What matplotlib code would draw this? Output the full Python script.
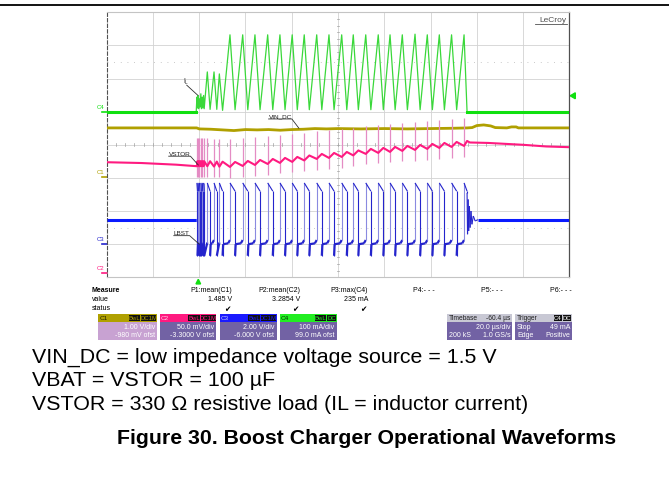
import numpy as np
import matplotlib
matplotlib.use('Agg')
import matplotlib.pyplot as plt
from matplotlib.patches import Rectangle, Polygon
from matplotlib.lines import Line2D
from matplotlib.collections import LineCollection

W, H = 669, 489

# ---------------- data ----------------
time_per_div_us = 20.0
n_xdiv, n_ydiv = 10, 8

ch_names = ['C1', 'C2', 'C3', 'C4']
ch_scale = [1.0, 0.05, 2.0, 100.0]       # units / div
ch_offset = [-0.98, -3.3, -6.0, 99.0]    # units

# switching events: IL peak (LBST rising) and IL valley (LBST falling), in us
ev_rise_t = [39.0, 39.5, 40.1, 40.7, 41.3, 41.9,
             43.5, 46.4, 48.7,
             53.3, 58.8, 64.1, 69.6, 74.9, 80.2, 85.4, 90.8, 96.1, 101.6,
             106.6, 112.0, 117.4, 122.5, 127.8, 133.3, 138.6, 143.8, 149.1, 154.5]
ev_fall_t = [39.25, 39.75, 40.35, 40.95, 41.55, 42.15,
             44.7, 47.6, 50.1,
             55.5, 61.0, 66.3, 71.8, 77.1, 82.4, 87.6, 93.0, 98.3, 103.8,
             108.8, 114.2, 119.6, 124.7, 130.0, 135.5, 140.8, 146.0, 151.3, 155.8]

# C4: inductor current IL (mA)
il_start_t = 38.7
il_peak_ma = [45, 50, 40, 55, 45, 50,
              121, 121, 115,
              233, 233, 233, 233, 233, 233, 233, 233, 233, 233,
              233, 233, 233, 233, 233, 235, 233, 233, 233, 233]
il_valley_ma = [12, 10, 15, 10, 12, 10,
                8, 8, 5,
                7, 7, 7, 7, 7, 7, 7, 7, 7, 7,
                7, 7, 7, 7, 7, 7, 7, 7, 7, 0]

# C1: VIN_DC (V)
vin_t = [0, 38.9, 40, 45, 50, 55, 60, 65, 70, 75, 80, 85, 90, 95, 100, 110, 120,
         130, 140, 150, 156, 158, 160, 163, 166, 168, 173, 175, 177, 178, 200]
vin_v = [1.49, 1.49, 1.46, 1.45, 1.43, 1.41, 1.44, 1.43, 1.44, 1.42, 1.44, 1.45, 1.47,
         1.46, 1.47, 1.46, 1.47, 1.46, 1.47, 1.48, 1.49, 1.50, 1.56, 1.58, 1.55, 1.50,
         1.49, 1.52, 1.52, 1.49, 1.49]

# C2: VSTOR (V)
vstor_pre_t = [0, 15, 30, 38.9]
vstor_pre_v = [3.2737, 3.2725, 3.2700, 3.2677]
vstor_trough_v = [3.2677, 3.2677, 3.2677, 3.2677, 3.2677, 3.2677,
                  3.2677, 3.2672, 3.2670,
                  3.2666, 3.2681, 3.2696, 3.2711, 3.2727, 3.2742, 3.2764, 3.2787,
                  3.2802, 3.2817, 3.2840, 3.2863, 3.2878, 3.2893, 3.2908, 3.2923,
                  3.2938, 3.2953, 3.2968, 3.2983]
vstor_ripple_v = 0.0075
vstor_spike_up_v = 0.042
vstor_spike_dn_v = 0.016
vstor_post_t = [157, 165, 180, 190, 200]
vstor_post_v = [3.3035, 3.3028, 3.3000, 3.2975, 3.2964]

# C3: LBST switch node (V)
lbst_idle_v = 1.48
lbst_high_start_v = 3.7
lbst_high_end_v = 3.2
lbst_under_v = -0.7
lbst_low_start_v = 0.0
lbst_low_end_v = 0.25
lbst_ring_t = [155.8, 156.0, 156.25, 156.5, 156.8, 157.1, 157.5, 157.9, 158.5, 159.3, 160.5]
lbst_ring_v = [3.1, 0.6, 2.7, 0.8, 2.3, 1.0, 2.0, 1.2, 1.7, 1.4, 1.48]

# measurements / annotations text
meas_labels = ['P1:mean(C1)', 'P2:mean(C2)', 'P3:max(C4)', 'P4:- - -', 'P5:- - -', 'P6:- - -']
meas_values = ['1.485 V', '3.2854 V', '235 mA', '', '', '']
meas_status = [True, True, True, False, False, False]
ch_vdiv_text = ['1.00 V/div', '50.0 mV/div', '2.00 V/div', '100 mA/div']
ch_ofst_text = ['-980 mV ofst', '-3.3000 V ofst', '-6.000 V ofst', '99.0 mA ofst']
ch_badges = [['BwL', 'DC1M'], ['BwL', 'DC1M'], ['BwL', 'DC1M'], ['BwL', 'DC']]
trig_level_ma = 49.0
trig_t = 39.6

notes = ['VIN_DC = low impedance voltage source = 1.5 V',
         'VBAT = VSTOR = 100 \u00b5F',
         'VSTOR = 330 \u03a9 resistive load (IL = inductor current)']
title = 'Figure 30. Boost Charger Operational Waveforms'

# ---------------- colours ----------------
col_c1 = '#b0a000'
col_c2 = '#ff1a80'
col_c2_spike = '#e48cc4'
col_c3 = '#2424cc'
col_c3_light = '#8a8ae0'
col_c3_base = '#0a1aff'
col_c4 = '#3ad83a'
col_c4_base = '#10e010'
grid_col = '#d2d2d2'


def to_div(v, ch):
    i = ch_names.index(ch)
    return 4.0 + (np.asarray(v, dtype=float) + ch_offset[i]) / ch_scale[i]


plt.rcParams['font.family'] = ['Liberation Sans', 'DejaVu Sans']
fig = plt.figure(figsize=(W / 100, H / 100), dpi=100)
fig.patch.set_facecolor('white')

px_l, px_r, px_t, px_b = 106.7, 569.3, 13.3, 278.3
ax = fig.add_axes([px_l / W, 1 - px_b / H, (px_r - px_l) / W, (px_b - px_t) / H])
T = time_per_div_us * n_xdiv
ax.set_xlim(0, T)
ax.set_ylim(0, n_ydiv)
ax.set_xticks([])
ax.set_yticks([])
for s in ['top', 'bottom']:
    ax.spines[s].set_color('#c4c4c4')
    ax.spines[s].set_linewidth(0.8)
ax.spines['left'].set_color('#505050')
ax.spines['left'].set_linestyle((0, (3, 2)))
ax.spines['left'].set_linewidth(0.8)
ax.spines['right'].set_color('#505050')
ax.spines['right'].set_linewidth(0.9)

# graticule
for i in range(1, n_xdiv):
    ax.axvline(i * time_per_div_us, color=grid_col, lw=0.6, zorder=0)
for j in range(1, n_ydiv):
    ax.axhline(j, color=grid_col, lw=0.6, zorder=0)
for yy in (1.5, 6.5):
    ax.axhline(yy, color='#b8b8b8', lw=0.6, ls=(0, (1, 7)), zorder=0)
cx = T / 2
for j in np.arange(0.2, n_ydiv, 0.2):
    ax.plot([cx - 0.6, cx + 0.6], [j, j], color='#a0a0a0', lw=0.5, zorder=0)
for i in np.arange(4, T, 4):
    ax.plot([i, i], [3.96, 4.04], color='#a0a0a0', lw=0.5, zorder=0)

# ---- C4 : IL ----
il_t = [0.0, il_start_t]
il_v = [0.0, 0.0]
for r, f, pk, vl in zip(ev_rise_t, ev_fall_t, il_peak_ma, il_valley_ma):
    il_t += [r, f]
    il_v += [pk, vl]
il_t += [T]
il_v += [0.0]
il_d = to_div(il_v, 'C4')
ax.plot(il_t, il_d, color=col_c4, lw=0.9, zorder=3)
ax.plot(il_t[:2], il_d[:2], color=col_c4_base, lw=2.2, zorder=3)
ax.plot(il_t[-2:], il_d[-2:], color=col_c4_base, lw=2.2, zorder=3)

# ---- C1 : VIN_DC ----
ax.plot(vin_t, to_div(vin_v, 'C1'), color=col_c1, lw=2.0, zorder=3)

# ---- C2 : VSTOR ----
vs_t = list(vstor_pre_t)
vs_v = list(vstor_pre_v)
for r, f, tr in zip(ev_rise_t, ev_fall_t, vstor_trough_v):
    vs_t += [r, f]
    vs_v += [tr, tr + vstor_ripple_v]
vs_t += vstor_post_t
vs_v += vstor_post_v
tr_arr = np.array(vstor_trough_v)
ax.vlines(ev_rise_t, to_div(tr_arr - vstor_spike_dn_v, 'C2'),
          to_div(tr_arr + vstor_spike_up_v, 'C2'), color=col_c2_spike, lw=0.9, zorder=4)
ax.plot(vs_t, to_div(vs_v, 'C2'), color=col_c2, lw=1.5, zorder=4)

# ---- C3 : LBST ----
lb_t = [0.0, il_start_t]
lb_v = [lbst_idle_v, lbst_idle_v]
cur_low = lbst_idle_v
n = len(ev_rise_t)
for k in range(n):
    r, f = ev_rise_t[k], ev_fall_t[k]
    lb_t += [r, r, f]
    lb_v += [cur_low, lbst_high_start_v, lbst_high_end_v]
    if k < n - 1:
        nr = ev_rise_t[k + 1]
        lb_t += [f]
        lb_v += [lbst_under_v]
        if nr - f > 1.5:
            lb_t += [f + 0.25, nr - 0.8]
            lb_v += [lbst_low_start_v, lbst_low_start_v + 0.05]
            cur_low = lbst_low_end_v
        else:
            cur_low = 0.1
lb_t += lbst_ring_t + [T]
lb_v += lbst_ring_v + [lbst_idle_v]
lb_d = to_div(lb_v, 'C3')
pts = np.column_stack([lb_t, lb_d])
segs = np.stack([pts[:-1], pts[1:]], axis=1)
dx = segs[:, 1, 0] - segs[:, 0, 0]
dy = segs[:, 1, 1] - segs[:, 0, 1]
is_rise = (np.abs(dx) < 1e-9) & (dy > 0)
low_lvl = float(to_div(0.6, 'C3'))
is_low = (np.abs(dx) > 0.1) & (segs[:, 0, 1] < low_lvl) & (segs[:, 1, 1] < low_lvl)
is_base = (np.abs(dy) < 1e-9) & (np.abs(segs[:, 0, 1] - float(to_div(lbst_idle_v, 'C3'))) < 1e-6)
cols = np.where(is_rise, col_c3_light, col_c3)
lws = np.where(is_base, 2.2, np.where(is_low, 1.6, 0.8))
cols = np.where(is_base, col_c3_base, cols)
ax.add_collection(LineCollection(segs, colors=list(cols), linewidths=lws, zorder=5,
                                 capstyle='butt'))


# ---- labels inside screen ----
def leader(label, tx, ty, ex, ey, fs=4.6):
    t = ax.text(tx, ty, label, fontsize=fs, color='#202020', ha='left', va='bottom', zorder=8)
    fig.canvas.draw()
    bb = t.get_window_extent().transformed(ax.transData.inverted())
    ax.plot([bb.x0, bb.x1, ex], [ty - 0.02, ty - 0.02, ey], color='#303030', lw=0.6, zorder=8)


leader('VIN_DC', 70.0, 4.80, 83.1, 4.50)
leader('VSTOR', 26.8, 3.676, 39.6, 3.39)
leader('LBST', 29.0, 1.277, 40.0, 1.00)
ax.text(33.0, 5.78, 'I$_\\mathregular{L}$', fontsize=4.8, color='#202020', ha='left', va='bottom', zorder=8)
ax.plot([34.6, 39.3], [5.80, 5.50], color='#303030', lw=0.6, zorder=8)

ax.text(T - 1.0, 7.78, 'LeCroy', fontsize=6.0, color='#505050', ha='right', va='center', zorder=8)
ax.plot([T - 15.0, T - 1.0], [7.66, 7.66], color='#505050', lw=0.6, zorder=8)

# ground markers at the left edge
for ch, lvl, col in [('C4', 0.0, col_c4_base), ('C1', 0.0, col_c1), ('C3', 0.0, col_c3), ('C2', None, col_c2)]:
    y = float(to_div(lvl, ch)) if lvl is not None else 0.12
    ax.text(-0.9, y + 0.1, ch, fontsize=4.3, color=col, ha='right', va='bottom', clip_on=False)
    ax.plot([-2.0, 0], [y, y], color=col, lw=1.2, clip_on=False)

# trigger markers
ytl = float(to_div(trig_level_ma, 'C4'))
ax.add_patch(Polygon([[T + 0.4, ytl], [T + 2.6, ytl + 0.09], [T + 2.6, ytl - 0.09]],
                     closed=True, color=col_c4_base, clip_on=False))
ax.add_patch(Polygon([[trig_t, -0.06], [trig_t - 1.0, -0.2], [trig_t + 1.0, -0.2]],
                     closed=True, color=col_c4_base, clip_on=False))


# ---------------- panel below screen ----------------
def ftext(x, y, s, **kw):
    kw.setdefault('fontsize', 5.0)
    kw.setdefault('va', 'center')
    fig.text(x / W, 1 - y / H, s, **kw)


def frect(x0, y0, x1, y1, color, **kw):
    fig.add_artist(Rectangle((x0 / W, 1 - y1 / H), (x1 - x0) / W, (y1 - y0) / H,
                             transform=fig.transFigure, facecolor=color, edgecolor='none', **kw))


ftext(92, 290, 'Measure', fontweight='bold')
ftext(92, 299.5, 'value')
ftext(92, 309, 'status')
meas_right = [232, 300, 368, 435, 503, 572]
for lab, val, st, xr in zip(meas_labels, meas_values, meas_status, meas_right):
    ftext(xr, 290, lab, ha='right')
    if val:
        ftext(xr, 299.5, val, ha='right')
    if st:
        ftext(xr - 2, 309.5, '\u2714', ha='right', fontsize=5.5, family='DejaVu Sans')

box_x = [(98, 157), (159.5, 216.5), (219.5, 276.5), (279.5, 336.5)]
top_cols = [col_c1, '#ff1a80', '#1a1aff', '#22ee22']
body_cols = ['#c8a2d2', '#7262a4', '#7262a4', '#7262a4']
lab_cols = ['#202000', '#ffd0e8', '#c0c8ff', '#003000']
y_top, y_bar, y_bot = 315.0, 322.5, 340.5
for i in range(4):
    x0, x1 = box_x[i]
    frect(x0, y_top, x1, y_bot, body_cols[i])
    frect(x0, y_top, x1, y_bar, top_cols[i])
    ftext(x0 + 1.5, (y_top + y_bar) / 2, ch_names[i], color=lab_cols[i], fontsize=4.6)
    bx = x1 - 1
    for b in reversed(ch_badges[i]):
        bw = 3.3 * len(b) + 1.5
        frect(bx - bw, y_top + 1, bx, y_bar - 1, '#101010')
        ftext(bx - bw / 2, (y_top + y_bar) / 2, b, ha='center', color=top_cols[i], fontsize=4.3)
        bx -= bw + 1
    ftext(x1 - 2, 327.8, ch_vdiv_text[i], ha='right', color='white')
    ftext(x1 - 2, 335.6, ch_ofst_text[i], ha='right', color='white')

# timebase / trigger boxes
for (x0, x1) in [(446.7, 512.3), (515.0, 571.7)]:
    frect(x0, y_top, x1, y_bot, '#7262a4')
    frect(x0, y_top, x1, y_bar, '#c8c8d4')
ftext(448.5, 318.8, 'Timebase', color='#202020', fontsize=4.8)
ftext(510.5, 318.8, '-60.4 \u00b5s', ha='right', color='#202020', fontsize=4.8)
ftext(510.5, 327.8, '20.0 \u00b5s/div', ha='right', color='white')
ftext(448.5, 335.6, '200 kS', color='white')
ftext(510.5, 335.6, '1.0 GS/s', ha='right', color='white')
ftext(517, 318.8, 'Trigger', color='#202020', fontsize=4.8)
bx = 570.7
for b in ['DC', 'C4']:
    bw = 3.3 * len(b) + 1.5
    frect(bx - bw, y_top + 1, bx, y_bar - 1, '#101010')
    ftext(bx - bw / 2, (y_top + y_bar) / 2, b, ha='center', color='white', fontsize=4.3)
    bx -= bw + 1
ftext(517, 327.8, 'Stop', color='white')
ftext(570, 327.8, '49 mA', ha='right', color='white')
ftext(517, 335.6, 'Edge', color='white')
ftext(570, 335.6, 'Positive', ha='right', color='white')

# rule at top of page
fig.add_artist(Line2D([0, 1], [1 - 5.5 / H, 1 - 5.5 / H], transform=fig.transFigure, color='black', lw=1.3))

# notes and caption
for i, s in enumerate(notes):
    ftext(32, 357 + 24 * i, s, fontsize=15.4, color='black')
ftext(367, 439, title, fontsize=15.3, fontweight='bold', ha='center', color='black')

fig.savefig('out.png', dpi=100)
